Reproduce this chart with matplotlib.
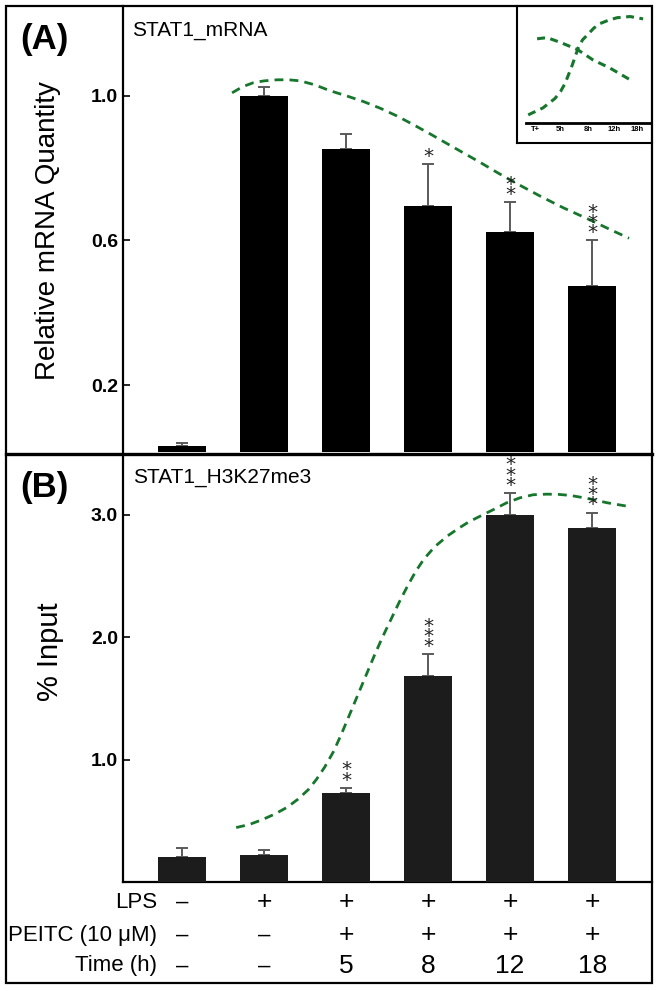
import matplotlib
matplotlib.use("Agg")
import matplotlib.pyplot as plt
import matplotlib.transforms as mtrans
from matplotlib.lines import Line2D
from matplotlib.patches import Rectangle
import numpy as np

plt.rcParams['font.family'] = ['Liberation Sans', 'DejaVu Sans']

# ---------------- data ----------------
x_idx = [0, 1, 2, 3, 4, 5]
lps = ['–', '+', '+', '+', '+', '+']
peitc = ['–', '–', '+', '+', '+', '+']
time_h = ['–', '–', '5', '8', '12', '18']

mrna_vals = [0.032, 1.0, 0.854, 0.695, 0.622, 0.473]
mrna_err = [0.009, 0.025, 0.041, 0.115, 0.083, 0.127]
mrna_stars = ['', '', '', '*', '**', '***']

h3_vals = [0.206, 0.22, 0.73, 1.68, 3.0, 2.89]
h3_err = [0.07, 0.045, 0.04, 0.18, 0.18, 0.13]
h3_stars = ['', '', '**', '***', '***', '***']

# trend curves
trendA_x = [0.61, 0.74, 0.87, 1.0, 1.16, 1.30, 1.44, 1.62, 1.80, 2.0, 2.21, 2.42, 2.62, 2.82,
            3.02, 3.22, 3.43, 3.64, 3.84, 4.09, 4.37, 4.65, 4.99, 5.22, 5.45]
trendA_y = [1.008, 1.025, 1.036, 1.041, 1.044, 1.044, 1.041, 1.030, 1.014, 1.000, 0.984, 0.965,
            0.944, 0.920, 0.895, 0.869, 0.842, 0.815, 0.788, 0.756, 0.722, 0.690, 0.655,
            0.630, 0.606]

trendB_x = [0.66, 0.82, 0.98, 1.13, 1.28, 1.41, 1.54, 1.64, 1.74, 1.85, 1.95, 2.05, 2.15, 2.25,
            2.35, 2.45, 2.55, 2.65, 2.75, 2.85, 2.95, 3.08, 3.24, 3.37, 3.50, 3.65,
            3.80, 3.96, 4.12, 4.28, 4.45, 4.59, 4.73, 4.86, 4.98, 5.18, 5.44]
trendB_y = [0.445, 0.47, 0.51, 0.555, 0.61, 0.675, 0.755, 0.84, 0.94, 1.07, 1.22, 1.38, 1.54,
            1.70, 1.86, 2.01, 2.15, 2.29, 2.42, 2.54, 2.64, 2.74, 2.83, 2.89,
            2.945, 2.995, 3.045, 3.10, 3.14, 3.165, 3.17, 3.168, 3.16, 3.145, 3.13, 3.10, 3.07]

inset_labels = ['T+', '5h', '8h', '12h', '18h']
inset_tick_pos = [0, 0.98, 2.08, 3.1, 4.0]
inset_dec_x = [0.08, 0.47, 0.98, 1.65, 2.27, 2.94, 3.73]
inset_dec_y = [0.72, 0.73, 0.69, 0.63, 0.54, 0.47, 0.37]
inset_inc_x = [-0.27, 0.31, 0.78, 1.0, 1.18, 1.45, 1.69, 1.86, 2.04, 2.30, 2.55, 2.9, 3.22, 3.73, 4.24]
inset_inc_y = [0.07, 0.13, 0.21, 0.27, 0.34, 0.49, 0.64, 0.71, 0.75, 0.81, 0.85, 0.88, 0.90, 0.91, 0.89]

# ---------------- layout helpers ----------------
W, H = 662, 991
fig = plt.figure(figsize=(W / 100, H / 100), dpi=100)


def rect(l, t, r, b):
    return [l / W, 1 - b / H, (r - l) / W, (b - t) / H]


def fy(y):
    return 1 - y / H


green = '#16762c'
bar_w = 0.585
xlim = (-0.72, 5.73)

axA = fig.add_axes(rect(123, 6, 652, 452))
axB = fig.add_axes(rect(123, 455, 652, 882))

for ax, vals, errs, stars, color, ylim, ticks in [
        (axA, mrna_vals, mrna_err, mrna_stars, '#000000', (0.015, 1.248), [0.2, 0.6, 1.0]),
        (axB, h3_vals, h3_err, h3_stars, '#1c1c1c', (0, 3.49), [1.0, 2.0, 3.0])]:
    ax.bar(x_idx, vals, width=bar_w, color=color, zorder=3)
    ax.errorbar(x_idx, vals, yerr=[np.zeros(len(vals)), errs], fmt='none',
                ecolor='#5a5a5a', elinewidth=1.4, capsize=4.5, capthick=1.4, zorder=2)
    for xi, v, e, s in zip(x_idx, vals, errs, stars):
        if s:
            ax.annotate('\n'.join(s), xy=(xi, v + e), xytext=(0, 1.5),
                        textcoords='offset points', ha='center', va='baseline',
                        fontsize=14.5, family='DejaVu Sans', linespacing=0.42,
                        color='#222222', zorder=5)
    ax.set_xlim(*xlim)
    ax.set_ylim(*ylim)
    ax.set_yticks(ticks)
    ax.set_yticklabels([f'{t:.1f}' for t in ticks], fontsize=14, fontweight='bold')
    ax.tick_params(axis='y', direction='in', length=5, width=1.2, pad=3.5)
    ax.set_xticks([])
    for sp in ['top', 'right']:
        ax.spines[sp].set_visible(False)
    ax.spines['left'].set_linewidth(1.6)
    ax.patch.set_alpha(0)

axA.spines['bottom'].set_visible(False)
axB.spines['bottom'].set_linewidth(1.6)

axA.plot(trendA_x, trendA_y, color=green, lw=2.0, dashes=(3.2, 2.2), zorder=4)
axB.plot(trendB_x, trendB_y, color=green, lw=2.0, dashes=(3.2, 2.2), zorder=4)

# panel titles and labels
fig.text(20 / W, fy(40), '(A)', fontsize=25, fontweight='bold', ha='left', va='center')
fig.text(20 / W, fy(487), '(B)', fontsize=25, fontweight='bold', ha='left', va='center')
fig.text(132 / W, fy(36), 'STAT1_mRNA', fontsize=15, ha='left', va='baseline')
fig.text(133 / W, fy(483), 'STAT1_H3K27me3', fontsize=15, ha='left', va='baseline')
fig.text(48 / W, fy(231), 'Relative mRNA Quantity', fontsize=20, rotation=90,
         ha='center', va='center')
fig.text(50 / W, fy(652), '% Input', fontsize=21, rotation=90, ha='center', va='center')

# inset
axI = fig.add_axes(rect(517, 6, 652, 143))
axI.set_xlim(-0.71, 4.59)
axI.set_ylim(-0.17, 1.0)
axI.plot(inset_dec_x, inset_dec_y, color=green, lw=2.2, dashes=(2.6, 1.8))
axI.plot(inset_inc_x, inset_inc_y, color=green, lw=2.2, dashes=(2.6, 1.8))
axI.axhline(0, xmin=0.07, xmax=0.99, color='black', lw=2.0)
for p, lab in zip(inset_tick_pos, inset_labels):
    axI.text(p, -0.055, lab, fontsize=5.5, fontweight='bold', ha='center', va='center')
axI.set_xticks([])
axI.set_yticks([])
for sp in ['top', 'right']:
    axI.spines[sp].set_visible(False)
axI.spines['left'].set_linewidth(1.5)
axI.spines['bottom'].set_linewidth(1.5)

# outer frame and separator
fig.add_artist(Rectangle((6 / W, fy(983)), (652 - 6) / W, (983 - 6) / H,
                         transform=fig.transFigure, fill=False, lw=1.6, ec='black'))
fig.add_artist(Line2D([6 / W, 652 / W], [fy(453.5), fy(453.5)], transform=fig.transFigure,
                      color='black', lw=2.4))

# condition table below panel B
trans = mtrans.blended_transform_factory(axB.transData, fig.transFigure)
rows = [('LPS', lps, 902), ('PEITC (10 μM)', peitc, 935), ('Time (h)', time_h, 966)]
for label, vals, y in rows:
    fig.text(157 / W, fy(y), label, fontsize=16, ha='right', va='center')
    for xi, s in zip(x_idx, vals):
        fig.text(xi, fy(y), s, transform=trans, fontsize=19 if s != '–' else 16,
                 ha='center', va='center')

fig.savefig('out.png', dpi=100)
